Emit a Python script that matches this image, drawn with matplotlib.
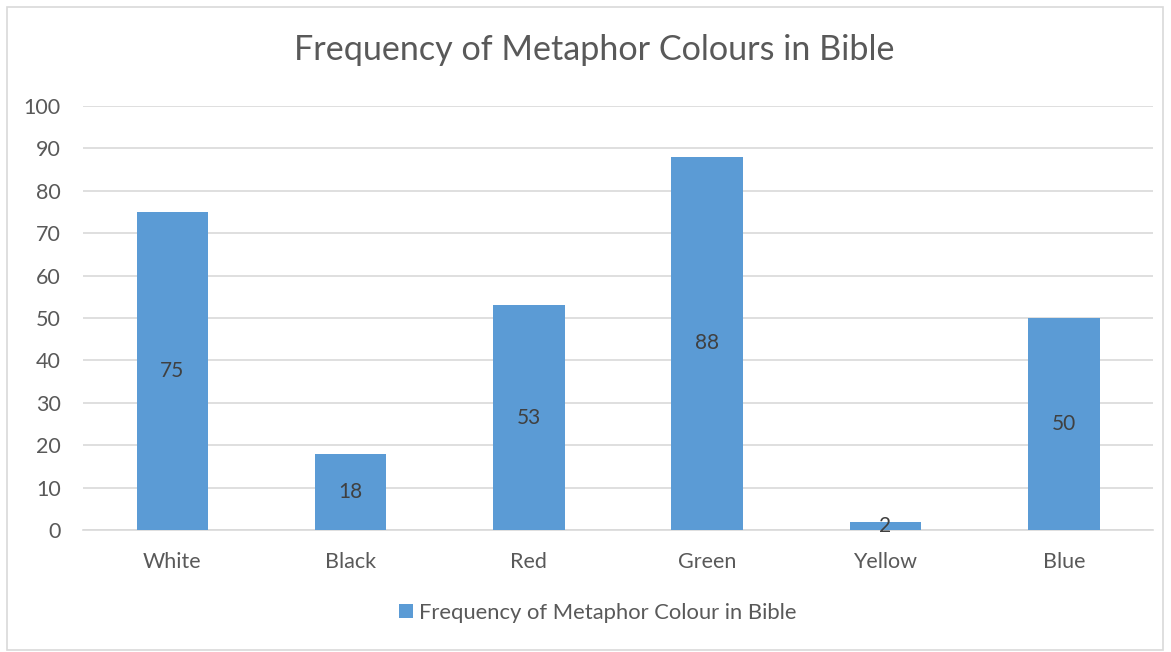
import matplotlib.pyplot as plt
from matplotlib.patches import Rectangle

colours = ["White", "Black", "Red", "Green", "Yellow", "Blue"]
frequency = [75, 18, 53, 88, 2, 50]
y_ticks = list(range(0, 101, 10))

plt.rcParams['font.family'] = ['Lato', 'DejaVu Sans']
text_grey = '#595959'
bar_blue = '#5B9BD5'

fig = plt.figure(figsize=(11.71, 6.52), dpi=100)
ax = fig.add_axes([83 / 1171, 1 - 530 / 652, 1070 / 1171, 424 / 652])

bars = ax.bar(colours, frequency, width=0.4, color=bar_blue,
              label="Frequency of Metaphor Colour in Bible", zorder=3)
for rect, val in zip(bars, frequency):
    ax.text(rect.get_x() + rect.get_width() / 2, val / 2, str(val),
            ha='center', va='center', fontsize=15, color='#404040', zorder=4)

ax.set_ylim(0, 100)
ax.set_xlim(-0.5, len(colours) - 0.5)
ax.set_yticks(y_ticks)
ax.yaxis.grid(True, color='#D9D9D9', linewidth=1.2, zorder=0)
for side in ['top', 'right', 'left']:
    ax.spines[side].set_visible(False)
ax.spines['bottom'].set_color('#D9D9D9')
ax.spines['bottom'].set_linewidth(1.2)
ax.tick_params(axis='both', length=0, labelsize=15.5, labelcolor=text_grey)
ax.tick_params(axis='x', pad=16)
ax.tick_params(axis='y', pad=16)

fig.text(594 / 1171, 1 - 50 / 652, "Frequency of Metaphor Colours in Bible",
         ha='center', va='center', fontsize=24.6, color=text_grey)

handles, labels = ax.get_legend_handles_labels()
fig.legend(handles, labels, loc='center', bbox_to_anchor=(598 / 1171, 1 - 613 / 652),
           frameon=False, fontsize=15.8, labelcolor=text_grey,
           handlelength=0.6, handleheight=0.6, handletextpad=0.3)

fig.patches.append(Rectangle((7 / 1171, 2 / 652), 1156 / 1171, 643 / 652,
                             transform=fig.transFigure, fill=False,
                             edgecolor='#D9D9D9', linewidth=1.2))

fig.savefig("out.png", dpi=100)
